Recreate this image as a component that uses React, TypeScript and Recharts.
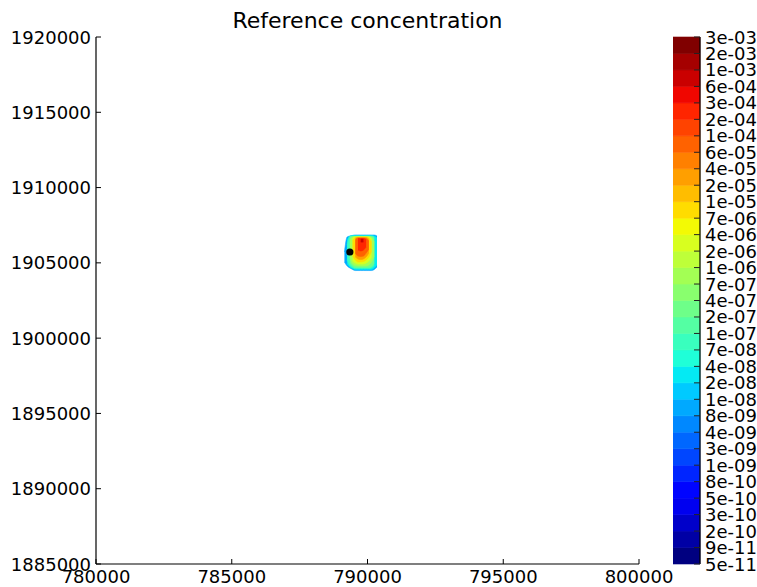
import React from 'react';
import {
  ComposedChart,
  Area,
  XAxis,
  YAxis,
  ReferenceDot,
  BarChart,
  Bar,
} from 'recharts';

const FONT = '"DejaVu Sans", "Bitstream Vera Sans", Verdana, sans-serif';

// Axis ticks (metres)
const eastingTicks = [780000, 785000, 790000, 795000, 800000];
const northingTicks = [1885000, 1890000, 1895000, 1900000, 1905000, 1910000, 1915000, 1920000];

// Contour level labels, top of the colour bar to the bottom
const levelLabels = [
  '3e-03', '2e-03', '1e-03', '6e-04', '3e-04', '2e-04', '1e-04', '6e-05', '4e-05',
  '2e-05', '1e-05', '7e-06', '4e-06', '2e-06', '1e-06', '7e-07', '4e-07', '2e-07',
  '1e-07', '7e-08', '4e-08', '2e-08', '1e-08', '8e-09', '4e-09', '3e-09', '1e-09',
  '8e-10', '5e-10', '3e-10', '2e-10', '9e-11', '5e-11',
];

// Eastings along which each filled band of the plume is traced
const eastings = [
  789150, 789250, 789350, 789450, 789550, 789650, 789750,
  789850, 789950, 790050, 790150, 790250, 790350,
];

// [south, north] northing span of each band at every easting (null: band absent)
type Span = [number, number] | null;
const band09: Span[] = [
  [1905060, 1905720], [1904790, 1906720], [1904660, 1906780], [1904560, 1906820],
  [1904490, 1906850], [1904490, 1906850], [1904490, 1906850], [1904490, 1906850],
  [1904490, 1906850], [1904490, 1906850], [1904490, 1906850], [1904560, 1906850],
  [1904720, 1906780],
];
const band11: Span[] = [
  null, [1904920, 1906520], [1904720, 1906780], [1904620, 1906820],
  [1904560, 1906820], [1904560, 1906820], [1904560, 1906820], [1904560, 1906820],
  [1904560, 1906820], [1904560, 1906820], [1904560, 1906820], [1904660, 1906780],
  [1904860, 1906650],
];
const band13: Span[] = [
  null, [1905190, 1906180], [1904820, 1906750], [1904690, 1906780],
  [1904620, 1906780], [1904620, 1906780], [1904620, 1906780], [1904620, 1906780],
  [1904620, 1906780], [1904620, 1906780], [1904660, 1906780], [1904790, 1906720],
  null,
];
const band15: Span[] = [
  null, null, [1904990, 1906720], [1904790, 1906750],
  [1904690, 1906750], [1904690, 1906750], [1904690, 1906750], [1904690, 1906750],
  [1904690, 1906750], [1904690, 1906750], [1904760, 1906750], [1904990, 1906650],
  null,
];
const band17: Span[] = [
  null, null, [1905320, 1906520], [1904920, 1906720],
  [1904820, 1906750], [1904790, 1906750], [1904790, 1906750], [1904790, 1906750],
  [1904790, 1906750], [1904860, 1906750], [1905060, 1906680], [1905450, 1906380],
  null,
];
const band19: Span[] = [
  null, null, null, [1905120, 1906650],
  [1904990, 1906720], [1904920, 1906720], [1904920, 1906720], [1904920, 1906720],
  [1904990, 1906720], [1905120, 1906720], [1905390, 1906580], null,
  null,
];
const band21: Span[] = [
  null, null, null, [1905450, 1906450],
  [1905190, 1906680], [1905060, 1906720], [1905060, 1906720], [1905090, 1906720],
  [1905190, 1906720], [1905390, 1906650], [1905790, 1906380], null,
  null,
];
const band23: Span[] = [
  null, null, null, null,
  [1905390, 1906650], [1905260, 1906680], [1905220, 1906680], [1905260, 1906680],
  [1905390, 1906680], [1905650, 1906580], null, null,
  null,
];
const band25: Span[] = [
  null, null, null, null,
  [1905650, 1906520], [1905450, 1906650], [1905420, 1906650], [1905450, 1906650],
  [1905650, 1906620], [1905920, 1906450], null, null,
  null,
];
const band27: Span[] = [
  null, null, null, null,
  null, [1905850, 1906620], [1905790, 1906620], [1905850, 1906620],
  [1906050, 1906550], null, null, null,
  null,
];
const band29: Span[] = [
  null, null, null, null,
  null, null, [1906380, 1906580], [1906380, 1906580],
  null, null, null, null,
  null,
];

// Release point
const sourceEasting = 789350;
const sourceNorthing = 1905720;

// Matplotlib "jet" colour map
const JET_R: [number, number][] = [[0, 0], [0.35, 0], [0.66, 1], [0.89, 1], [1, 0.5]];
const JET_G: [number, number][] = [[0, 0], [0.125, 0], [0.375, 1], [0.64, 1], [0.91, 0], [1, 0]];
const JET_B: [number, number][] = [[0, 0.5], [0.11, 1], [0.34, 1], [0.65, 0], [1, 0]];

function channel(stops: [number, number][], t: number): number {
  for (let i = 1; i < stops.length; i++) {
    const [x0, y0] = stops[i - 1];
    const [x1, y1] = stops[i];
    if (t <= x1) {
      const f = x1 === x0 ? 0 : (t - x0) / (x1 - x0);
      return y0 + f * (y1 - y0);
    }
  }
  return stops[stops.length - 1][1];
}

const BAND_COUNT = levelLabels.length - 1;

function bandColor(band: number): string {
  const t = band / (BAND_COUNT - 1);
  const r = Math.round(channel(JET_R, t) * 255);
  const g = Math.round(channel(JET_G, t) * 255);
  const b = Math.round(channel(JET_B, t) * 255);
  return `rgb(${r},${g},${b})`;
}

const plumeBands = [
  { key: 'b09', band: 9, spans: band09 },
  { key: 'b11', band: 11, spans: band11 },
  { key: 'b13', band: 13, spans: band13 },
  { key: 'b15', band: 15, spans: band15 },
  { key: 'b17', band: 17, spans: band17 },
  { key: 'b19', band: 19, spans: band19 },
  { key: 'b21', band: 21, spans: band21 },
  { key: 'b23', band: 23, spans: band23 },
  { key: 'b25', band: 25, spans: band25 },
  { key: 'b27', band: 27, spans: band27 },
  { key: 'b29', band: 29, spans: band29 },
];

const plumeRows = eastings.map((easting, i) => {
  const row: Record<string, any> = { easting };
  plumeBands.forEach((pb) => {
    row[pb.key] = pb.spans[i];
  });
  return row;
});

// Colour bar: one stacked unit segment per band
const colorbarRow: Record<string, any> = { name: 'levels' };
for (let i = 0; i < BAND_COUNT; i++) colorbarRow[`s${i}`] = 1;
const colorbarRows = [colorbarRow];
const colorbarTicks = Array.from({ length: levelLabels.length }, (_, i) => i);

// Plot frame of the map (pixels inside the chart svg)
const PLOT_LEFT = 96;
const PLOT_RIGHT = 639;
const PLOT_TOP = 37;
const PLOT_BOTTOM = 564;
const CHART_W = 757;
const CHART_H = 587;

const TICK_LEN = 5;
const LABEL_SIZE = 18;

const BottomTick = (props: any) => {
  const x = props.payload.coordinate;
  return (
    <g>
      <line x1={x} x2={x} y1={PLOT_BOTTOM} y2={PLOT_BOTTOM - TICK_LEN} stroke="#000" strokeWidth={1} />
      <text x={x} y={PLOT_BOTTOM + 19} textAnchor="middle" fontFamily={FONT} fontSize={LABEL_SIZE} fill="#000">
        {props.payload.value}
      </text>
    </g>
  );
};

const TopTick = (props: any) => {
  const x = props.payload.coordinate;
  return <line x1={x} x2={x} y1={PLOT_TOP} y2={PLOT_TOP + TICK_LEN} stroke="#000" strokeWidth={1} />;
};

const LeftTick = (props: any) => {
  const y = props.payload.coordinate;
  return (
    <g>
      <line x1={PLOT_LEFT} x2={PLOT_LEFT + TICK_LEN} y1={y} y2={y} stroke="#000" strokeWidth={1} />
      <text x={PLOT_LEFT - 5} y={y + 6.5} textAnchor="end" fontFamily={FONT} fontSize={LABEL_SIZE} fill="#000">
        {props.payload.value}
      </text>
    </g>
  );
};

const RightTick = (props: any) => {
  const y = props.payload.coordinate;
  return <line x1={PLOT_RIGHT} x2={PLOT_RIGHT - TICK_LEN} y1={y} y2={y} stroke="#000" strokeWidth={1} />;
};

// Colour bar occupies x 0..27 of its own svg
const CB_RIGHT = 27;

const ColorbarTick = (props: any) => {
  const y = props.payload.coordinate;
  const label = levelLabels[BAND_COUNT - props.payload.value];
  return (
    <g>
      <line x1={CB_RIGHT} x2={CB_RIGHT - 6} y1={y} y2={y} stroke="#222" strokeWidth={1} />
      <text x={CB_RIGHT + 5} y={y + 6.5} textAnchor="start" fontFamily={FONT} fontSize={LABEL_SIZE} fill="#000">
        {label}
      </text>
    </g>
  );
};

const spine = { stroke: '#000', strokeWidth: 1.2 };

export default function App() {
  return (
    <div
      style={{
        position: 'absolute',
        left: 0,
        top: 0,
        width: CHART_W,
        height: CHART_H,
        background: '#fff',
        fontFamily: FONT,
        overflow: 'hidden',
      }}
    >
      <div
        style={{
          position: 'absolute',
          left: PLOT_LEFT,
          width: PLOT_RIGHT - PLOT_LEFT,
          top: 10.4,
          textAlign: 'center',
          fontSize: 22,
          lineHeight: '22px',
          color: '#000',
          whiteSpace: 'nowrap',
        }}
      >
        Reference concentration
      </div>

      <div style={{ position: 'absolute', left: 0, top: 0 }}>
        <ComposedChart
          width={CHART_W}
          height={CHART_H}
          data={plumeRows}
          margin={{ top: PLOT_TOP, right: CHART_W - PLOT_RIGHT, bottom: 0, left: 0 }}
        >
          <XAxis
            dataKey="easting"
            type="number"
            domain={[780000, 800000]}
            ticks={eastingTicks}
            interval={0}
            allowDataOverflow
            height={CHART_H - PLOT_BOTTOM}
            tickSize={0}
            tickMargin={0}
            tick={(p: any) => <BottomTick {...p} />}
            axisLine={spine}
          />
          <XAxis
            xAxisId="top"
            orientation="top"
            dataKey="easting"
            type="number"
            domain={[780000, 800000]}
            ticks={eastingTicks}
            interval={0}
            allowDataOverflow
            height={0}
            tickSize={0}
            tickMargin={0}
            tick={(p: any) => <TopTick {...p} />}
            axisLine={spine}
          />
          <YAxis
            type="number"
            domain={[1885000, 1920000]}
            ticks={northingTicks}
            interval={0}
            allowDataOverflow
            width={PLOT_LEFT}
            tickSize={0}
            tickMargin={0}
            tick={(p: any) => <LeftTick {...p} />}
            axisLine={spine}
          />
          <YAxis
            yAxisId="right"
            orientation="right"
            type="number"
            domain={[1885000, 1920000]}
            ticks={northingTicks}
            interval={0}
            allowDataOverflow
            width={0}
            tickSize={0}
            tickMargin={0}
            tick={(p: any) => <RightTick {...p} />}
            axisLine={spine}
          />
          {plumeBands.map((pb) => (
            <Area
              key={pb.key}
              dataKey={pb.key}
              type="monotone"
              fill={bandColor(pb.band)}
              fillOpacity={1}
              stroke={bandColor(pb.band)}
              strokeWidth={0.6}
              dot={false}
              activeDot={false}
              connectNulls={false}
              isAnimationActive={false}
            />
          ))}
          <ReferenceDot
            x={sourceEasting}
            y={sourceNorthing}
            r={3.6}
            fill="#000"
            stroke="none"
          />
        </ComposedChart>
      </div>

      <div style={{ position: 'absolute', left: 673, top: 0 }}>
        <BarChart
          width={CHART_W - 673}
          height={CHART_H}
          data={colorbarRows}
          margin={{ top: PLOT_TOP, right: 0, bottom: CHART_H - PLOT_BOTTOM, left: 0 }}
          barCategoryGap={0}
          barGap={0}
        >
          <XAxis dataKey="name" height={0} tick={false} tickLine={false} axisLine={spine} />
          <XAxis
            xAxisId="top"
            orientation="top"
            dataKey="name"
            height={0}
            tick={false}
            tickLine={false}
            axisLine={spine}
          />
          <YAxis
            orientation="right"
            type="number"
            domain={[0, BAND_COUNT]}
            ticks={colorbarTicks}
            interval={0}
            width={CHART_W - 673 - CB_RIGHT}
            tickSize={0}
            tickMargin={0}
            tick={(p: any) => <ColorbarTick {...p} />}
            axisLine={spine}
          />
          <YAxis
            yAxisId="left"
            orientation="left"
            type="number"
            domain={[0, BAND_COUNT]}
            width={0}
            tick={false}
            tickLine={false}
            axisLine={spine}
          />
          {Array.from({ length: BAND_COUNT }, (_, i) => (
            <Bar
              key={i}
              dataKey={`s${i}`}
              stackId="levels"
              fill={bandColor(i)}
              stroke={bandColor(i)}
              strokeWidth={0.6}
              isAnimationActive={false}
            />
          ))}
        </BarChart>
      </div>
    </div>
  );
}
